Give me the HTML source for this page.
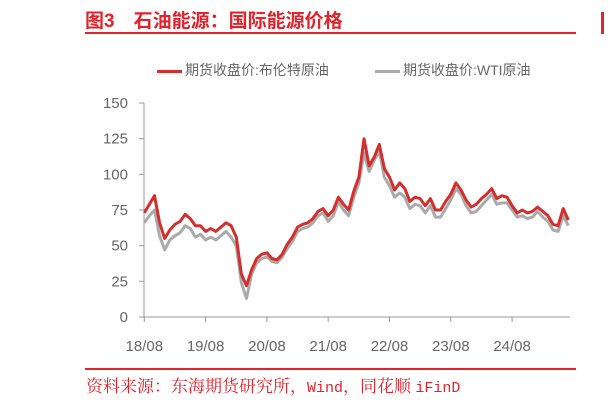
<!DOCTYPE html>
<html><head><meta charset="utf-8"><style>
body{margin:0;background:#fff;width:611px;height:403px;overflow:hidden;position:relative;font-family:"Liberation Sans","Noto Sans CJK SC",sans-serif}
.t{position:absolute;white-space:nowrap}
</style></head><body>
<div class="t" style="left:85px;top:6px;font-size:19px;color:#e0242d;font-weight:bold;font-family:'Liberation Sans','Noto Sans CJK SC',sans-serif">图3　石油能源：国际能源价格</div>
<div style="position:absolute;left:85px;top:32px;width:491px;height:2px;background:#e0242d"></div>
<div style="position:absolute;left:601px;top:12px;width:3px;height:22px;background:#e0242d"></div>
<div class="t" style="left:157px;top:60px;font-size:14px;color:#666"><span style="display:inline-block;width:25px;height:3px;background:#d32f2f;vertical-align:middle;margin-right:3px"></span>期货收盘价:布伦特原油</div>
<div class="t" style="left:375px;top:60px;font-size:14px;color:#666"><span style="display:inline-block;width:25px;height:3px;background:#aaa;vertical-align:middle;margin-right:3px"></span>期货收盘价:WTI原油</div>
<svg id="c" width="611" height="403" style="position:absolute;left:0;top:0"></svg>
<div style="position:absolute;left:85px;top:368px;width:491px;height:2px;background:#e0242d"></div>
<div class="t" style="left:86px;top:372px;font-size:17px;color:#e0242d;font-family:'Noto Serif CJK SC',serif">资料来源：东海期货研究所，<span style="font-family:'Liberation Mono',monospace;font-size:15px">Wind</span>，同花顺 <span style="font-family:'Liberation Mono',monospace;font-size:15px">iFinD</span></div>
<script>
const xLabels=["18/08","19/08","20/08","21/08","22/08","23/08","24/08"];
const yTicks=[0,25,50,75,100,125,150];
const brent=[73,79,85,66,55,61,65,67,72,69,64,64,60,62,60,63,66,64,56,30,22,33,41,44,45,41,40,44,51,56,63,65,66,69,74,76,71,75,84,79,75,88,98,125,106,112,121,104,98,89,94,90,81,84,83,78,83,75,75,81,86,94,89,82,77,79,83,86,90,83,85,84,78,73,75,73,74,77,74,71,65,64,76,68];
const wti=[66,71,75,57,47,54,57,59,64,62,56,58,54,56,54,57,60,56,50,24,13,30,38,41,42,39,38,42,48,53,60,62,63,66,71,73,67,71,81,75,71,84,94,115,102,110,116,98,92,84,87,84,76,79,78,73,78,70,70,76,82,90,86,78,73,74,78,82,86,79,80,80,75,70,71,69,70,74,70,67,61,60,71,64];
const svg=document.getElementById('c');const NS='http://www.w3.org/2000/svg';
const X=t=>144.3+t*61.3/12, Y=v=>317-v*214/150;
function mk(tag,a){const e=document.createElementNS(NS,tag);for(const k in a)e.setAttribute(k,a[k]);svg.appendChild(e);return e;}
const ya=mk('line',{x1:144,y1:Y(150),x2:144,y2:317,stroke:'#999','stroke-width':1});


const xa=mk('line',{x1:144,y1:317,x2:570,y2:317,stroke:'#999','stroke-width':1});


yTicks.forEach(v=>{mk('line',{x1:139,y1:Y(v),x2:144,y2:Y(v),stroke:'#999'});
const t=mk('text',{x:128,y:Y(v)+5,'text-anchor':'end','font-size':15,fill:'#666','font-family':'Liberation Sans,sans-serif'});t.textContent=v;

});
xLabels.forEach((l,i)=>{const x=X(i*12);mk('line',{x1:x,y1:317,x2:x,y2:322,stroke:'#999'});
const t=mk('text',{x:x,y:351,'text-anchor':'middle','font-size':15,fill:'#666','font-family':'Liberation Sans,sans-serif'});t.textContent=l;

});
function line(d,c,n){const p=mk('polyline',{points:d.map((v,i)=>X(i).toFixed(1)+','+Y(v).toFixed(1)).join(' '),fill:'none',stroke:c,'stroke-width':3,'stroke-linejoin':'round'});

}
line(wti,'#aaaaaa','wti-line');
line(brent,'#d32f2f','brent-line');
</script>
</body></html>
